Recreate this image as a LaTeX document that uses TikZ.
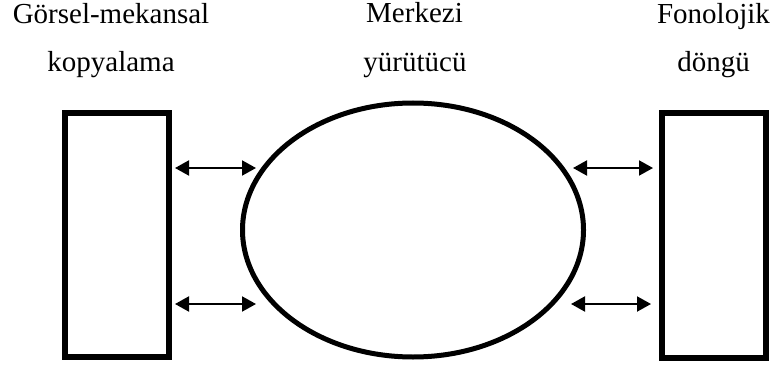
\documentclass[tikz,border=0pt]{standalone}
\usepackage{fontspec}
\setmainfont{Liberation Serif}
\usepackage{tikz}
\usetikzlibrary{shapes.geometric,arrows.meta}

\begin{document}
\begin{tikzpicture}[x=1pt,y=1pt,
		box/.style={draw,line width=6pt,inner sep=0pt,minimum width=104pt,minimum height=244pt},
		central/.style={draw,ellipse,line width=5pt,inner sep=0pt,minimum width=341pt,minimum height=254pt},
		title/.style={anchor=base,font=\fontsize{29}{34}\selectfont},
		link/.style={line width=2pt,{Triangle[length=14pt,width=15pt]}-{Triangle[length=14pt,width=15pt]}}]
		\useasboundingbox (0,0) rectangle (775,370);
		% the three components
		\node[box] (vsk) at (117,135) {};
		\node[central] (mer) at (413,140) {};
		\node[box] (fon) at (713.5,134.5) {};
		% labels above
		\node[title] (t1a) at (111,346) {Görsel-mekansal};
		\node[title] (t1b) at (111,298) {kopyalama};
		\node[title] (t2a) at (414.5,347) {Merkezi};
		\node[title] (t2b) at (415,298) {yürütücü};
		\node[title] (t3a) at (713.5,346) {Fonolojik};
		\node[title] (t3b) at (713.5,298) {döngü};
		% arrow ends
		\coordinate (l1) at (175,202); \coordinate (l2) at (256,202);
		\coordinate (l3) at (175,66);  \coordinate (l4) at (256,66);
		\coordinate (r1) at (573,202); \coordinate (r2) at (653,202);
		\coordinate (r3) at (571,66);  \coordinate (r4) at (651,66);
		\draw[link] (l1) -- (l2);
		\draw[link] (l3) -- (l4);
		\draw[link] (r1) -- (r2);
		\draw[link] (r3) -- (r4);
\end{tikzpicture}
\end{document}
